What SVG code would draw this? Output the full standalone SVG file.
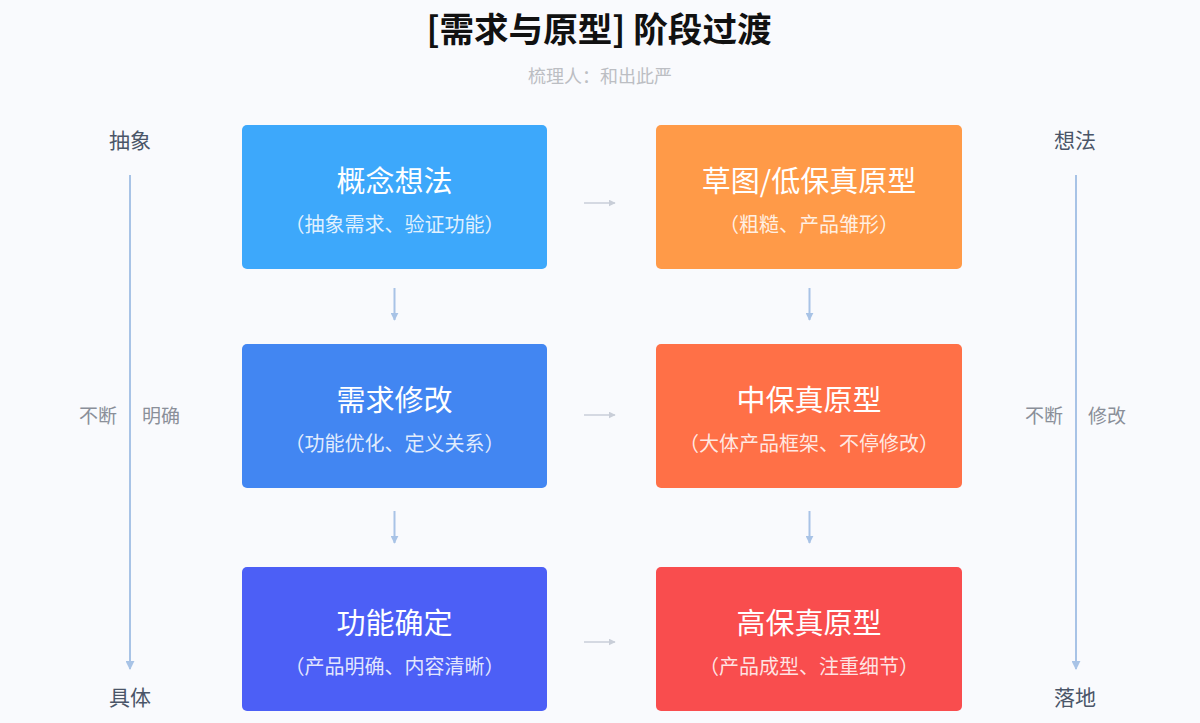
<svg xmlns="http://www.w3.org/2000/svg" width="1200" height="723" viewBox="0 0 1200 723">
<defs>
<style>
.t{font-family:"Noto Sans CJK SC","Noto Sans",sans-serif}
.bt{font-family:"Noto Sans CJK SC",sans-serif;font-size:29px;fill:#fff;text-anchor:middle}
.bs{font-family:"Noto Sans CJK SC",sans-serif;font-size:20px;fill:#fff;fill-opacity:0.85;text-anchor:middle}
.side{font-family:"Noto Sans CJK SC",sans-serif;font-size:21px;fill:#4a5568;text-anchor:middle}
.mid{font-family:"Noto Sans CJK SC",sans-serif;font-size:19px;fill:#8a8f99;text-anchor:middle}
.c{stroke:#c9ced8;stroke-width:1.5;fill:none}
.v{stroke:#a8c3e6;stroke-width:2;fill:none}
</style>
<marker id="ah" viewBox="0 0 10 10" refX="9" refY="5" markerWidth="7" markerHeight="7" markerUnits="userSpaceOnUse" orient="auto"><path d="M0,0 L10,5 L0,10 z" fill="#c9ced8"/></marker>
<marker id="ah2" viewBox="0 0 10 10" refX="9" refY="5" markerWidth="9" markerHeight="9" markerUnits="userSpaceOnUse" orient="auto"><path d="M0,0 L10,5 L0,10 z" fill="#a8c3e6"/></marker>
<marker id="ah3" viewBox="0 0 10 10" refX="9" refY="5" markerWidth="8" markerHeight="8" markerUnits="userSpaceOnUse" orient="auto"><path d="M0,0 L10,5 L0,10 z" fill="#a8c3e6"/></marker>
</defs>
<rect width="1200" height="723" fill="#f9fafd"/>
<text x="599" y="42" class="t" font-size="34.6" font-weight="bold" fill="#111" text-anchor="middle">[需求与原型] 阶段过渡</text>
<text x="600" y="83" class="t" font-size="18" fill="#bcbec3" text-anchor="middle">梳理人：和出此严</text>

<g id="side-left">
<text x="130" y="148" class="side">抽象</text>
<text x="130" y="705" class="side">具体</text>
<text x="98" y="423" class="mid">不断</text>
<text x="161" y="423" class="mid">明确</text>
</g>
<g id="side-right">
<text x="1075" y="148" class="side">想法</text>
<text x="1075" y="705" class="side">落地</text>
<text x="1044" y="423" class="mid">不断</text>
<text x="1107" y="423" class="mid">修改</text>
</g>

<g id="connectors">
<line x1="130" y1="175" x2="130" y2="669" class="v" marker-end="url(#ah2)"/>
<line x1="1076" y1="175" x2="1076" y2="669" class="v" marker-end="url(#ah2)"/>
<line x1="584" y1="203" x2="615" y2="203" class="c" marker-end="url(#ah)"/>
<line x1="584" y1="415" x2="615" y2="415" class="c" marker-end="url(#ah)"/>
<line x1="584" y1="642" x2="615" y2="642" class="c" marker-end="url(#ah)"/>
<line x1="394.5" y1="288" x2="394.5" y2="320" class="v" stroke-width="1.5" marker-end="url(#ah3)"/>
<line x1="809.5" y1="288" x2="809.5" y2="320" class="v" stroke-width="1.5" marker-end="url(#ah3)"/>
<line x1="394.5" y1="511" x2="394.5" y2="543" class="v" stroke-width="1.5" marker-end="url(#ah3)"/>
<line x1="809.5" y1="511" x2="809.5" y2="543" class="v" stroke-width="1.5" marker-end="url(#ah3)"/>
</g>

<g id="n1">
<rect x="242" y="125" width="305" height="144" rx="5" fill="#3da8fb"/>
<text x="394.5" y="192" class="bt">概念想法</text>
<text x="394.5" y="232" class="bs">（抽象需求、验证功能）</text>
</g>
<g id="n2">
<rect x="242" y="344" width="305" height="144" rx="5" fill="#4286f2"/>
<text x="394.5" y="411" class="bt">需求修改</text>
<text x="394.5" y="451" class="bs">（功能优化、定义关系）</text>
</g>
<g id="n3">
<rect x="242" y="567" width="305" height="144" rx="5" fill="#4c5ff6"/>
<text x="394.5" y="634" class="bt">功能确定</text>
<text x="394.5" y="674" class="bs">（产品明确、内容清晰）</text>
</g>
<g id="n4">
<rect x="656" y="125" width="306" height="144" rx="5" fill="#ff9a48"/>
<text x="809" y="192" class="bt">草图/低保真原型</text>
<text x="809" y="232" class="bs">（粗糙、产品雏形）</text>
</g>
<g id="n5">
<rect x="656" y="344" width="306" height="144" rx="5" fill="#ff7047"/>
<text x="809" y="411" class="bt">中保真原型</text>
<text x="809" y="451" class="bs">（大体产品框架、不停修改）</text>
</g>
<g id="n6">
<rect x="656" y="567" width="306" height="144" rx="5" fill="#f94d4e"/>
<text x="809" y="634" class="bt">高保真原型</text>
<text x="809" y="674" class="bs">（产品成型、注重细节）</text>
</g>
</svg>
